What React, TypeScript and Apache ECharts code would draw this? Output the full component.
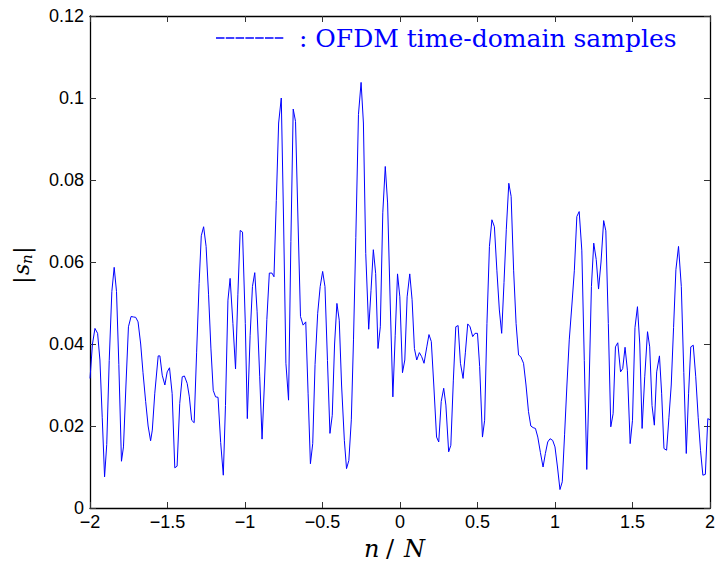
import React, { useEffect, useRef } from "react";
import * as echarts from "echarts";

// n/N positions of the read vertices
const nOverN = [
  -2.0, -1.984, -1.968, -1.951, -1.936, -1.921, -1.906, -1.892, -1.876, -1.859,
  -1.844, -1.829, -1.814, -1.797, -1.784, -1.768, -1.752, -1.735, -1.72, -1.705,
  -1.69, -1.673, -1.658, -1.641, -1.625, -1.609, -1.598, -1.582, -1.56, -1.549,
  -1.534, -1.517, -1.502, -1.487, -1.47, -1.453, -1.438, -1.421, -1.405, -1.391,
  -1.373, -1.359, -1.344, -1.328, -1.312, -1.296, -1.282, -1.267, -1.251, -1.235,
  -1.22, -1.205, -1.19, -1.174, -1.157, -1.14, -1.126, -1.11, -1.096, -1.078,
  -1.061, -1.046, -1.031, -1.016, -0.998, -0.985, -0.967, -0.952, -0.937, -0.922,
  -0.905, -0.89, -0.875, -0.859, -0.843, -0.826, -0.813, -0.798, -0.783, -0.766,
  -0.751, -0.736, -0.719, -0.704, -0.689, -0.674, -0.658, -0.642, -0.625, -0.608,
  -0.593, -0.578, -0.563, -0.548, -0.531, -0.515, -0.499, -0.484, -0.468, -0.452,
  -0.437, -0.422, -0.407, -0.392, -0.377, -0.359, -0.345, -0.33, -0.314, -0.3,
  -0.285, -0.268, -0.251, -0.236, -0.221, -0.202, -0.187, -0.172, -0.157, -0.142,
  -0.127, -0.111, -0.095, -0.08, -0.063, -0.046, -0.031, -0.016, -0.001, 0.016,
  0.031, 0.046, 0.063, 0.078, 0.093, 0.108, 0.125, 0.14, 0.155, 0.173,
  0.187, 0.202, 0.218, 0.236, 0.25, 0.266, 0.282, 0.296, 0.314, 0.328,
  0.344, 0.36, 0.375, 0.39, 0.407, 0.422, 0.437, 0.452, 0.469, 0.484,
  0.5, 0.514, 0.532, 0.546, 0.561, 0.577, 0.593, 0.609, 0.625, 0.641,
  0.656, 0.671, 0.686, 0.702, 0.717, 0.733, 0.749, 0.765, 0.779, 0.797,
  0.813, 0.829, 0.844, 0.859, 0.874, 0.889, 0.906, 0.923, 0.938, 0.953,
  0.968, 0.985, 1.0, 1.016, 1.032, 1.047, 1.062, 1.077, 1.092, 1.11,
  1.125, 1.141, 1.156, 1.173, 1.189, 1.205, 1.22, 1.235, 1.25, 1.266,
  1.281, 1.297, 1.314, 1.328, 1.344, 1.36, 1.375, 1.39, 1.405, 1.423,
  1.437, 1.452, 1.467, 1.485, 1.5, 1.516, 1.532, 1.547, 1.562, 1.579,
  1.597, 1.611, 1.626, 1.641, 1.656, 1.674, 1.688, 1.703, 1.72, 1.735,
  1.75, 1.765, 1.78, 1.797, 1.815, 1.831, 1.847, 1.862, 1.876, 1.892,
  1.908, 1.924, 1.939, 1.954, 1.97, 1.986, 2.0,
];

// |s_n| magnitudes at those positions
const magnitude = [
  0.0316, 0.04, 0.0438, 0.0426, 0.0361, 0.022, 0.0076, 0.0155, 0.036, 0.0528,
  0.0587, 0.0528, 0.035, 0.0114, 0.0149, 0.03, 0.0442, 0.0467, 0.0466, 0.0465,
  0.0454, 0.04, 0.033, 0.026, 0.02, 0.0164, 0.019, 0.028, 0.0371, 0.0371,
  0.0324, 0.03, 0.0332, 0.0342, 0.0279, 0.0098, 0.0102, 0.0255, 0.032, 0.0322,
  0.0304, 0.0271, 0.0214, 0.0208, 0.038, 0.0548, 0.0664, 0.0686, 0.0638, 0.052,
  0.039, 0.0287, 0.0271, 0.027, 0.016, 0.008, 0.025, 0.0507, 0.056, 0.045,
  0.0339, 0.052, 0.0677, 0.0673, 0.045, 0.0218, 0.042, 0.054, 0.0574, 0.048,
  0.032, 0.0168, 0.03, 0.046, 0.0573, 0.0573, 0.0564, 0.075, 0.0939, 0.1,
  0.07, 0.0353, 0.0263, 0.065, 0.0973, 0.0943, 0.07, 0.0467, 0.0446, 0.0454,
  0.028, 0.0108, 0.0157, 0.035, 0.0475, 0.054, 0.0577, 0.054, 0.036, 0.0182,
  0.0226, 0.04, 0.0499, 0.0458, 0.03, 0.0165, 0.0096, 0.0116, 0.0215, 0.041,
  0.066, 0.096, 0.1038, 0.0939, 0.0621, 0.0436, 0.053, 0.063, 0.0572, 0.0389,
  0.0442, 0.072, 0.0833, 0.0744, 0.05, 0.0271, 0.042, 0.0571, 0.0515, 0.033,
  0.0361, 0.0515, 0.0571, 0.0508, 0.0389, 0.0361, 0.0379, 0.0369, 0.0353, 0.0393,
  0.0423, 0.0406, 0.03, 0.0173, 0.0161, 0.026, 0.0292, 0.0251, 0.0137, 0.0153,
  0.031, 0.0442, 0.0445, 0.0353, 0.0316, 0.038, 0.0449, 0.0442, 0.0418, 0.0426,
  0.0426, 0.0345, 0.0173, 0.0214, 0.045, 0.0638, 0.0703, 0.0686, 0.058, 0.0483,
  0.0426, 0.055, 0.068, 0.0792, 0.076, 0.058, 0.045, 0.0373, 0.0369, 0.0353,
  0.03, 0.0235, 0.02, 0.0196, 0.0194, 0.0173, 0.0135, 0.01, 0.0133, 0.0161,
  0.0169, 0.0165, 0.0149, 0.01, 0.0045, 0.0064, 0.018, 0.03, 0.041, 0.05,
  0.058, 0.0711, 0.0723, 0.0629, 0.036, 0.0094, 0.03, 0.054, 0.0646, 0.0606,
  0.0534, 0.06, 0.0701, 0.0676, 0.045, 0.0198, 0.023, 0.0393, 0.0403, 0.0332,
  0.034, 0.0392, 0.0336, 0.0157, 0.0214, 0.044, 0.0491, 0.04, 0.0194, 0.032,
  0.043, 0.0393, 0.025, 0.0202, 0.0332, 0.0371, 0.028, 0.0145, 0.0141, 0.022,
  0.03, 0.044, 0.0581, 0.0638, 0.054, 0.033, 0.0133, 0.028, 0.0393, 0.0397,
  0.032, 0.022, 0.014, 0.008, 0.0082, 0.0218, 0.0215,
];

const xTicks = { min: -2, max: 2, interval: 0.5 };
const yTicks = { min: 0, max: 0.12, interval: 0.02 };
const legendText = ": OFDM time-domain samples";

const tickFont = "'Liberation Sans', Arial, sans-serif";
const serif = "'DejaVu Serif', 'Liberation Serif', serif";

export default function App() {
  const ref = useRef<HTMLDivElement>(null);
  useEffect(() => {
    if (!ref.current) return;
    const chart = echarts.init(ref.current, undefined, { renderer: "svg" });
    const data = nOverN.map((x, i) => [x, magnitude[i]]);
    const fmtX = (v: number) => String(parseFloat(v.toFixed(2))).replace("-", "\u2212");
    const fmtY = (v: number) => String(parseFloat(v.toFixed(2)));
    const axisLine = { show: true, onZero: false, lineStyle: { color: "#000", width: 1.3 } };
    const tick = { show: true, inside: true, length: 6, lineStyle: { color: "#333", width: 1 } };
    chart.setOption({
      animation: false,
      backgroundColor: "#fff",
      grid: { left: 90, right: 4, top: 16, bottom: 58, containLabel: false },
      xAxis: [
        {
          type: "value", ...xTicks, position: "bottom",
          axisLine, axisTick: tick, splitLine: { show: false },
          axisLabel: { formatter: fmtX, color: "#000", fontSize: 18, fontFamily: tickFont, margin: 5 },
        },
        {
          type: "value", ...xTicks, position: "top",
          axisLine, axisTick: tick, splitLine: { show: false }, axisLabel: { show: false },
        },
      ],
      yAxis: [
        {
          type: "value", ...yTicks, position: "left",
          axisLine, axisTick: tick, splitLine: { show: false },
          axisLabel: { formatter: fmtY, color: "#000", fontSize: 18, fontFamily: tickFont, margin: 6 },
        },
        {
          type: "value", ...yTicks, position: "right",
          axisLine, axisTick: tick, splitLine: { show: false }, axisLabel: { show: false },
        },
      ],
      series: [
        {
          type: "line", data, showSymbol: false, symbol: "none",
          lineStyle: { color: "#0000ff", width: 1 }, xAxisIndex: 0, yAxisIndex: 0,
        },
      ],
      graphic: [
        {
          type: "line", shape: { x1: 216, y1: 38, x2: 284, y2: 38 },
          style: { stroke: "#0000ff", lineWidth: 1.5, lineDash: [8.5, 1.3] },
        },
        {
          type: "text", x: 299, y: 38,
          style: { text: legendText, fill: "#0000ff", font: `25px ${serif}`, verticalAlign: "middle" },
        },
        {
          type: "group", x: 400, y: 549,
          children: [
            { type: "text", x: -36, y: 0, style: { text: "n", fill: "#000", font: `italic 24px ${serif}`, verticalAlign: "middle" } },
            { type: "text", x: -14, y: 0, style: { text: "/", fill: "#000", font: `24px ${serif}`, verticalAlign: "middle" } },
            { type: "text", x: 4, y: 0, style: { text: "N", fill: "#000", font: `italic 24px ${serif}`, verticalAlign: "middle" } },
          ],
        },
        {
          type: "group", x: 22, y: 262, rotation: Math.PI / 2,
          children: [
            { type: "text", x: -22, y: 0, style: { text: "|", fill: "#000", font: `23px ${serif}`, verticalAlign: "middle" } },
            { type: "text", x: -13, y: -1, style: { text: "s", fill: "#000", font: `italic 22px ${serif}`, verticalAlign: "middle" } },
            { type: "text", x: -2, y: 5, style: { text: "n", fill: "#000", font: `italic 15px ${serif}`, verticalAlign: "middle" } },
            { type: "text", x: 8, y: 0, style: { text: "|", fill: "#000", font: `23px ${serif}`, verticalAlign: "middle" } },
          ],
        },
      ],
    });
    return () => chart.dispose();
  }, []);
  return (
    <div
      ref={ref}
      style={{ position: "fixed", left: 0, top: 0, width: 718, height: 566, background: "#fff" }}
    />
  );
}
